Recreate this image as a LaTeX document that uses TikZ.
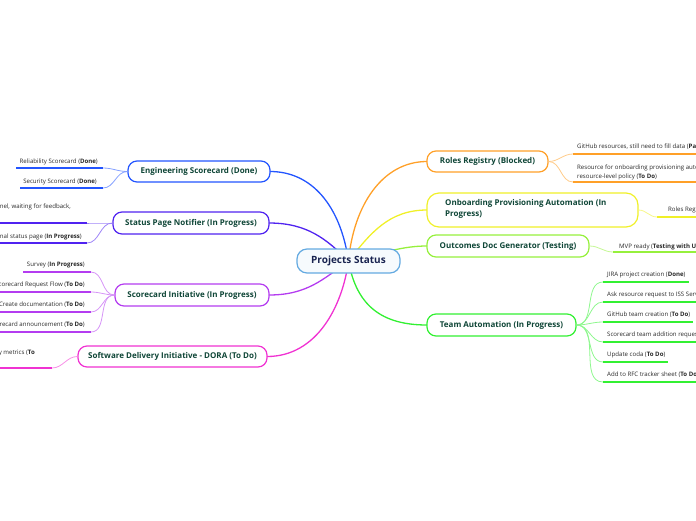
\documentclass[tikz,border=0pt]{standalone}
\usepackage{fontspec}
\setmainfont{Open Sans}
\definecolor{cBlue}{RGB}{35,85,255}
\definecolor{cViolet}{RGB}{80,35,240}
\definecolor{cPurple}{RGB}{180,60,240}
\definecolor{cMagenta}{RGB}{240,50,210}
\definecolor{cOrange}{RGB}{255,160,40}
\definecolor{cYellow}{RGB}{240,240,40}
\definecolor{cLime}{RGB}{150,240,60}
\definecolor{cGreen}{RGB}{50,240,50}
\definecolor{cCentral}{RGB}{100,170,225}
\definecolor{topictext}{RGB}{15,70,55}
\definecolor{centraltext}{RGB}{25,35,80}
\definecolor{subtext}{RGB}{40,40,40}
\tikzset{
  topic/.style={draw=#1, rounded corners=9pt, line width=1.2pt, fill=white, text=topictext,
    font=\fontsize{8}{11}\selectfont\bfseries, inner sep=0pt, minimum height=22pt},
  central/.style={draw=cCentral, rounded corners=10pt, line width=1.2pt, fill=cCentral!6, text=centraltext,
    font=\fontsize{10}{12}\selectfont\bfseries, inner sep=0pt, minimum height=24pt, minimum width=103pt},
  mainlink/.style={draw=#1, line width=1.3pt},
  sublink/.style={draw=#1!55, line width=0.8pt},
  uline/.style={draw=#1, line width=1.8pt},
  subtxt/.style={font=\fontsize{6.1}{9}\selectfont, text=subtext, inner sep=0pt},
}
\begin{document}
\begin{tikzpicture}[x=1pt,y=-1pt]
\useasboundingbox (0,0) rectangle (696,520);
\clip (0,0) rectangle (696,520);

% central coordinate
\coordinate (c) at (348.5,261);

% ---------- main links (drawn first, under the nodes)
\coordinate (engE) at (270,171.5);
\coordinate (spnE) at (269,223);
\coordinate (sciE) at (269,295);
\coordinate (doraE) at (267,356.5);
\coordinate (rolesW) at (427,161.5);
\coordinate (onbW) at (427,210);
\coordinate (odgW) at (427,246);
\coordinate (teamW) at (427,325);

\draw[mainlink=cBlue] (engE) .. controls +(42,0) and +(-8,-55) .. (c);
\draw[mainlink=cViolet] (spnE) .. controls +(38,0) and +(-22,-22) .. (c);
\draw[mainlink=cPurple] (sciE) .. controls +(38,0) and +(-25,18) .. (c);
\draw[mainlink=cMagenta] (doraE) .. controls +(50,0) and +(-6,45) .. (c);
\draw[mainlink=cOrange] (rolesW) .. controls +(-45,0) and +(5,-55) .. (c);
\draw[mainlink=cYellow] (onbW) .. controls +(-38,0) and +(22,-28) .. (c);
\draw[mainlink=cLime] (odgW) .. controls +(-25,0) and +(35,-8) .. (c);
\draw[mainlink=cGreen] (teamW) .. controls +(-45,0) and +(8,45) .. (c);

% ---------- nodes
\node[central] (ps) at (c) {Projects Status};
\node[topic=cBlue, minimum width=142pt, minimum height=21pt] (eng) at (199,171.5) {Engineering Scorecard (Done)};
\node[topic=cViolet, minimum width=156pt] (spn) at (191,223) {Status Page Notifier (In Progress)};
\node[topic=cPurple, minimum width=154pt] (sci) at (192,295) {Scorecard Initiative (In Progress)};
\node[topic=cMagenta, minimum width=189pt, minimum height=21pt] (dora) at (172.5,356.5) {Software Delivery Initiative - DORA (To Do)};
\node[topic=cOrange, minimum width=121pt, minimum height=21pt] (roles) at (487.5,161.5) {Roles Registry (Blocked)};
\node[topic=cYellow, minimum width=211pt, minimum height=34pt, rounded corners=12pt] (onb) at (532.5,210) {};
\node[anchor=north west, text=topictext, font=\fontsize{8}{11}\selectfont\bfseries, inner sep=0pt, align=left] (onbtxt) at (445,199.5) {Onboarding Provisioning Automation (In\\Progress)};
\node[topic=cLime, minimum width=162pt] (odg) at (508,246) {Outcomes Doc Generator (Testing)};
\node[topic=cGreen, minimum width=149pt] (team) at (501.5,325) {Team Automation (In Progress)};

% ---------- Engineering Scorecard subtopics
\coordinate (e1) at (103,168); \coordinate (e1s) at (16,168);
\coordinate (e2) at (103,188); \coordinate (e2s) at (20,188);
\draw[sublink=cBlue] (eng.west) to[out=180,in=0] (e1);
\draw[sublink=cBlue] (eng.west) to[out=180,in=0] (e2);
\draw[uline=cBlue] (e1s) -- (e1);
\draw[uline=cBlue] (e2s) -- (e2);
\node[subtxt, anchor=base east] (e1t) at (98,163.5) {Reliability Scorecard (\textbf{Done})};
\node[subtxt, anchor=base east] (e2t) at (97,183.5) {Security Scorecard (\textbf{Done})};

% ---------- Status Page Notifier subtopics
\coordinate (s1) at (87,223); \coordinate (s1s) at (-60,223);
\coordinate (s2) at (87,243); \coordinate (s2s) at (-60,243);
\draw[sublink=cViolet] (spn.west) to[out=180,in=0] (s1);
\draw[sublink=cViolet] (spn.west) to[out=180,in=0] (s2);
\draw[uline=cViolet] (s1s) -- (s1);
\draw[uline=cViolet] (s2s) -- (s2);
\node[subtxt, anchor=base east] (s1t) at (71,208.5) {Shared in the team channel, waiting for feedback,};
\node[subtxt, anchor=base east] (s2t) at (82,238.5) {Create internal status page (\textbf{In Progress})};

% ---------- Scorecard Initiative subtopics
\coordinate (i1) at (91,272); \coordinate (i1s) at (23,272);
\coordinate (i2) at (91,292); \coordinate (i2s) at (-30,292);
\coordinate (i3) at (91,312); \coordinate (i3s) at (-30,312);
\coordinate (i4) at (91,332); \coordinate (i4s) at (-30,332);
\foreach \k in {i1,i2,i3,i4}{
  \draw[sublink=cPurple] (sci.west) to[out=180,in=0] (\k);
}
\draw[uline=cPurple] (i1s) -- (i1);
\draw[uline=cPurple] (i2s) -- (i2);
\draw[uline=cPurple] (i3s) -- (i3);
\draw[uline=cPurple] (i4s) -- (i4);
\node[subtxt, anchor=base east] (i1t) at (85,266.5) {Survey (\textbf{In Progress})};
\node[subtxt, anchor=base east] (i2t) at (85,286.5) {Scorecard Request Flow (\textbf{To Do})};
\node[subtxt, anchor=base east] (i3t) at (85,306.5) {Create documentation (\textbf{To Do})};
\node[subtxt, anchor=base east] (i4t) at (85,326.5) {Scorecard announcement (\textbf{To Do})};

% ---------- DORA subtopic
\coordinate (d1) at (52,368); \coordinate (d1s) at (-100,368);
\draw[sublink=cMagenta] (dora.west) to[out=180,in=0] (d1);
\draw[uline=cMagenta] (d1s) -- (d1);
\node[subtxt, anchor=base east] (d1t) at (35,354.5) {Define delivery metrics (\textbf{To}};
\node[subtxt, anchor=base west] (d1t2) at ([yshift=-9pt]d1t.base west) {\textbf{Do})};

% ---------- Roles Registry subtopics
\coordinate (r1) at (573,154); \coordinate (r1e) at (720,154);
\coordinate (r2) at (573,182); \coordinate (r2e) at (720,182);
\draw[sublink=cOrange] (roles.east) to[out=0,in=180] (r1);
\draw[sublink=cOrange] (roles.east) to[out=0,in=180] (r2);
\draw[uline=cOrange] (r1) -- (r1e);
\draw[uline=cOrange] (r2) -- (r2e);
\node[subtxt, anchor=base west] (r1t) at (577,148.5) {GitHub resources, still need to fill data (\textbf{Partially Done})};
\node[subtxt, anchor=base west, align=left] (r2t) at (577,178) {Resource for onboarding provisioning automation with\\resource-level policy (\textbf{To Do})};

% ---------- Onboarding subtopic
\coordinate (o1) at (657,217); \coordinate (o1e) at (720,217);
\draw[sublink=cYellow] (onb.east) to[out=0,in=180] (o1);
\draw[uline=cYellow] (o1) -- (o1e);
\node[subtxt, anchor=base west] (o1t) at (668,211.5) {Roles Registry (\textbf{Blocked})};

% ---------- Outcomes subtopic
\coordinate (g1) at (613,252); \coordinate (g1e) at (720,252);
\draw[sublink=cLime] (odg.east) to[out=0,in=180] (g1);
\draw[uline=cLime] (g1) -- (g1e);
\node[subtxt, anchor=base west] (g1t) at (619,248) {MVP ready (\textbf{Testing with Users})};

% ---------- Team Automation subtopics
\coordinate (t1) at (603,282); \coordinate (t1e) at (689,282);
\coordinate (t2) at (603,302); \coordinate (t2e) at (720,302);
\coordinate (t3) at (603,322); \coordinate (t3e) at (693,322);
\coordinate (t4) at (603,342); \coordinate (t4e) at (720,342);
\coordinate (t5) at (603,362); \coordinate (t5e) at (668,362);
\coordinate (t6) at (603,382); \coordinate (t6e) at (720,382);
\foreach \k in {t1,t2,t3,t4,t5,t6}{
  \draw[sublink=cGreen] (team.east) to[out=0,in=180] (\k);
}
\draw[uline=cGreen] (t1) -- (t1e);
\draw[uline=cGreen] (t2) -- (t2e);
\draw[uline=cGreen] (t3) -- (t3e);
\draw[uline=cGreen] (t4) -- (t4e);
\draw[uline=cGreen] (t5) -- (t5e);
\draw[uline=cGreen] (t6) -- (t6e);
\node[subtxt, anchor=base west] (t1t) at (607,276.5) {JIRA project creation (\textbf{Done})};
\node[subtxt, anchor=base west] (t2t) at (607,296.5) {Ask resource request to ISS Service (\textbf{To Do})};
\node[subtxt, anchor=base west] (t3t) at (607,316.5) {GitHub team creation (\textbf{To Do})};
\node[subtxt, anchor=base west] (t4t) at (607,336.5) {Scorecard team addition request (\textbf{To Do})};
\node[subtxt, anchor=base west] (t5t) at (607,356.5) {Update coda (\textbf{To Do})};
\node[subtxt, anchor=base west] (t6t) at (607,376.5) {Add to RFC tracker sheet (\textbf{To Do})};
\end{tikzpicture}
\end{document}
